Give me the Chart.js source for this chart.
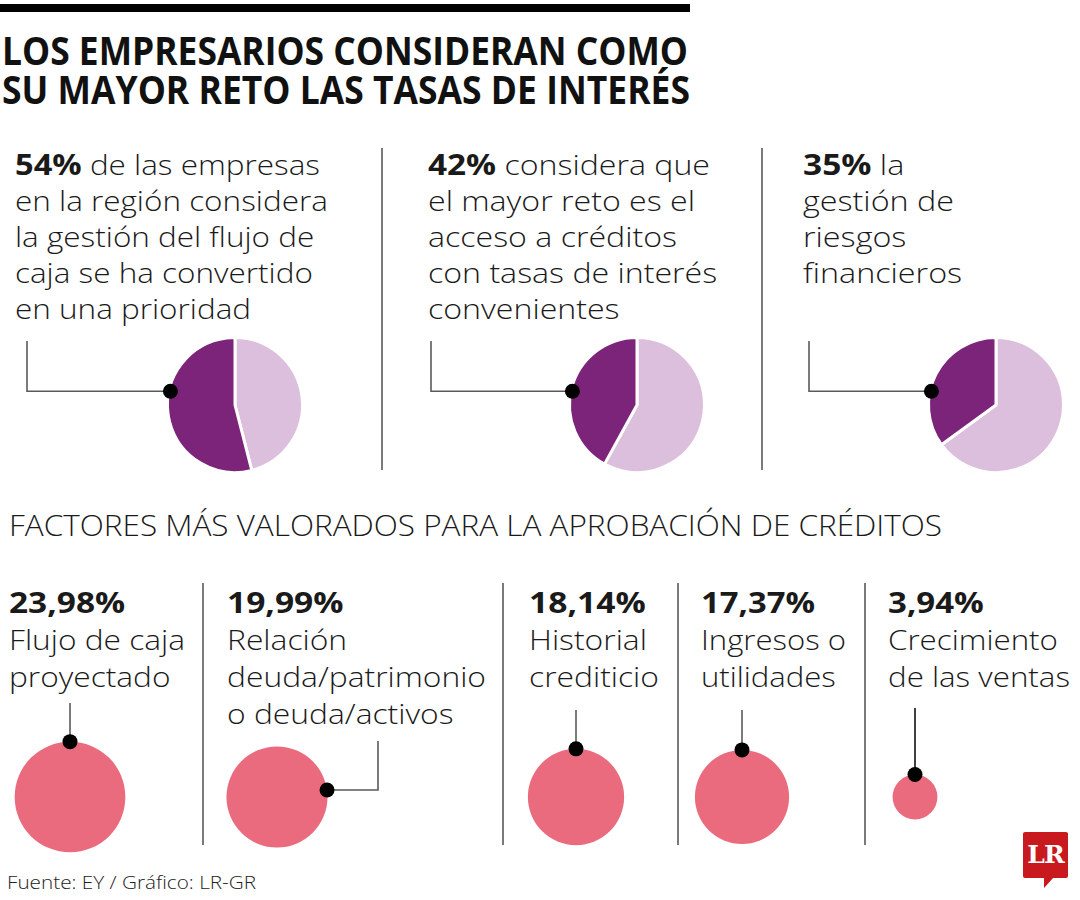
<!DOCTYPE html>
<html lang="es">
<head>
<meta charset="utf-8">
<title>Los empresarios consideran como su mayor reto las tasas de interés</title>
<script src="https://cdn.jsdelivr.net/npm/chart.js@4.4.1/dist/chart.umd.min.js"></script>
<style>
  html, body { margin: 0; padding: 0; background: #fff; }
  #page { position: relative; width: 1080px; height: 900px; overflow: hidden;
          font-family: "Open Sans", sans-serif; color: #1a1a1a; }
  .abs { position: absolute; white-space: nowrap; transform-origin: 0 0; }
  .vrule { position: absolute; width: 2px; background: #7a7a7a; }
  .title { font-weight: 700; font-size: 39px; line-height: 39px; color: #111; }
  .lead { font-weight: 300; font-size: 27px; line-height: 36px; }
  .lead b { font-weight: 700; font-size: 28px; }
  .heading { font-weight: 300; font-size: 30px; line-height: 30px; }
  .factor { font-weight: 300; font-size: 27px; line-height: 37px; }
  .factor b { font-weight: 700; font-size: 28.5px; }
  .source { font-weight: 300; font-size: 19px; line-height: 19px; color: #222; }
  canvas { position: absolute; }
  #logo { position: absolute; left: 1023px; top: 832px; width: 45px; height: 46px; background: #c8191e;
          border-radius: 2px; color: #fff; font-family: "DejaVu Serif", serif; font-weight: 700;
          font-size: 25px; line-height: 46px; text-align: center; letter-spacing: -1px; }
  #logo-tail { position: absolute; left: 1044px; top: 877px; width: 10px; height: 11px; background: #c8191e;
               clip-path: polygon(0 0, 100% 0, 0 100%); }
</style>
</head>
<body>
<div id="page"></div>
<script>
const TITLE = ['LOS EMPRESARIOS CONSIDERAN COMO', 'SU MAYOR RETO LAS TASAS DE INTERÉS'];

const PIE_VALUES = [54, 42, 35];
const PIE_TEXTS = [
    'de las empresas\nen la región considera\nla gestión del flujo de\ncaja se ha convertido\nen una prioridad',
    'considera que\nel mayor reto es el\nacceso a créditos\ncon tasas de interés\nconvenientes',
    'la\ngestión de\nriesgos\nfinancieros'
];

const FACTOR_HEADING = 'FACTORES MÁS VALORADOS PARA LA APROBACIÓN DE CRÉDITOS';
const FACTOR_VALUES = [23.98, 19.99, 18.14, 17.37, 3.94];
const FACTOR_LABELS = [
    'Flujo de caja\nproyectado',
    'Relación\ndeuda/patrimonio\no deuda/activos',
    'Historial\ncrediticio',
    'Ingresos o\nutilidades',
    'Crecimiento\nde las ventas'
];

const SOURCE = 'Fuente: EY / Gráfico: LR-GR';

// ---- colours ----
const DARK = '#7b2479';
const LIGHT = '#dcbedd';
const PINK = '#eb6b7e';

// ---- layout ----
// refLine / refW: which text line is matched to which width in the original
const PIE_COLS = [
    { left: 0,   width: 380, textX: 15,  cx: 235, elbowX: 27,  refLine: 0, refW: 305 },
    { left: 384, width: 376, textX: 428, cx: 637, elbowX: 431, refLine: 0, refW: 282 },
    { left: 764, width: 316, textX: 803, cx: 996, elbowX: 809, refLine: 1, refW: 151 }
];
const PIE_TOP = 330, PIE_H = 150, PIE_CY = 405, PIE_R = 67.5;

const FACTOR_COLS = [
    { left: 0,   width: 203, textX: 9,   cx: 70,  angle: -90, topY: 703, refLine: 1, refW: 176 },
    { left: 203, width: 300, textX: 227, cx: 277, angle: -8,  topY: 741, elbowX: 378, refLine: 2, refW: 259 },
    { left: 503, width: 175, textX: 529, cx: 576, angle: -90, topY: 710, refLine: 2, refW: 130 },
    { left: 678, width: 187, textX: 701, cx: 742, angle: -90, topY: 710, refLine: 1, refW: 145 },
    { left: 865, width: 215, textX: 888, cx: 915, angle: -90, topY: 708, refLine: 2, refW: 182, color: '#111' }
];
const BUBBLE_TOP = 690, BUBBLE_H = 170, BUBBLE_CY = 797;
const BUBBLE_SCALE = 11.3; // px of radius per sqrt(percent)

const page = document.getElementById('page');

function addDiv(cls, x, y, html) {
    const d = document.createElement('div');
    d.className = cls;
    d.style.left = x + 'px';
    d.style.top = y + 'px';
    d.innerHTML = html;
    page.appendChild(d);
    return d;
}

function fitWidth(el, target, measureEl) {
    const w = (measureEl || el).getBoundingClientRect().width;
    if (w > 0) el.style.transform = 'scaleX(' + (target / w) + ')';
}

// a block of lines, stretched so that one reference line has the original width
function addLines(cls, x, y, lines, refLine, refW) {
    const d = addDiv(cls, x, y, lines.map(l => '<span>' + l + '</span>').join('<br>'));
    fitWidth(d, refW, d.querySelectorAll('span')[refLine]);
    return d;
}

const pct = v => String(v).replace('.', ',') + '%';

// draws the black dot on the mark edge and the elbow line up to the text
const connectorPlugin = {
    id: 'connector',
    afterDatasetsDraw(chart, args, opts) {
        const el = chart.getDatasetMeta(0).data[opts.index || 0];
        const r = el.outerRadius !== undefined ? opts.edge : el.options.radius;
        const a = opts.angle * Math.PI / 180;
        const px = el.x + r * Math.cos(a);
        const py = el.y + r * Math.sin(a);
        const ctx = chart.ctx;
        ctx.save();
        ctx.strokeStyle = opts.color || '#5a5a5a';
        ctx.lineWidth = 1.6;
        ctx.beginPath();
        ctx.moveTo(px, py);
        if (opts.elbowX != null) {
            ctx.lineTo(opts.elbowX, py);
            ctx.lineTo(opts.elbowX, opts.topY);
        } else {
            ctx.lineTo(px, opts.topY);
        }
        ctx.stroke();
        ctx.fillStyle = '#000';
        ctx.beginPath();
        ctx.arc(px, py, 7.5, 0, Math.PI * 2);
        ctx.fill();
        ctx.restore();
    }
};

function makeCanvas(left, top, w, h) {
    const c = document.createElement('canvas');
    c.width = w;
    c.height = h;
    c.style.left = left + 'px';
    c.style.top = top + 'px';
    page.appendChild(c);
    return c;
}

// ---- header ----
const topBar = document.createElement('div');
topBar.style.cssText = 'position:absolute;left:0;top:4px;width:690px;height:8px;background:#000;';
page.appendChild(topBar);

TITLE.forEach((t, i) => {
    const d = addDiv('abs title', 2, 30 + i * 39, t);
    fitWidth(d, i === 0 ? 686 : 688);
});

// ---- pies ----
PIE_VALUES.forEach((v, i) => {
    const col = PIE_COLS[i];
    const lines = PIE_TEXTS[i].split('\n');
    lines[0] = '<b>' + v + '%</b> ' + lines[0];
    addLines('abs lead', col.textX, 146, lines, col.refLine, col.refW);

    const canvas = makeCanvas(col.left, PIE_TOP, col.width, PIE_H);
    const half = 67;
    const cxIn = col.cx - col.left;
    const cyIn = PIE_CY - PIE_TOP;
    new Chart(canvas, {
        type: 'pie',
        data: {
            labels: ['Resto', 'Respuesta'],
            datasets: [{
                data: [100 - v, v],
                backgroundColor: [LIGHT, DARK],
                borderColor: '#fff',
                borderWidth: 3,
                hoverOffset: 0
            }]
        },
        options: {
            responsive: false,
            animation: false,
            events: [],
            radius: PIE_R,
            layout: {
                padding: {
                    left: cxIn - half,
                    right: col.width - cxIn - half,
                    top: cyIn - half,
                    bottom: PIE_H - cyIn - half
                }
            },
            plugins: {
                legend: { display: false },
                tooltip: { enabled: false },
                connector: {
                    index: 1,
                    edge: 66,
                    angle: 192,
                    elbowX: col.elbowX - col.left,
                    topY: 341 - PIE_TOP
                }
            }
        },
        plugins: [connectorPlugin]
    });
});

// column dividers
[[382, 148, 322], [762, 148, 322], [203, 583, 262], [503, 583, 262], [678, 583, 262], [865, 583, 262]]
    .forEach(([x, y, h]) => {
        const d = document.createElement('div');
        d.className = 'vrule';
        d.style.left = (x - 1) + 'px';
        d.style.top = y + 'px';
        d.style.height = h + 'px';
        page.appendChild(d);
    });

// ---- factors ----
const heading = addDiv('abs heading', 9, 510, FACTOR_HEADING);
fitWidth(heading, 933);

FACTOR_VALUES.forEach((v, i) => {
    const col = FACTOR_COLS[i];
    const lines = ['<b>' + pct(v) + '</b>'].concat(FACTOR_LABELS[i].split('\n'));
    addLines('abs factor', col.textX, 584, lines, col.refLine, col.refW);

    const canvas = makeCanvas(col.left, BUBBLE_TOP, col.width, BUBBLE_H);
    const cxIn = col.cx - col.left;
    const cyIn = BUBBLE_CY - BUBBLE_TOP;
    const label = FACTOR_LABELS[i].replace(/\n/g, ' ');
    new Chart(canvas, {
        type: 'bubble',
        data: {
            labels: [label],
            datasets: [{
                data: [{ x: label, y: 0, r: BUBBLE_SCALE * Math.sqrt(v) }],
                backgroundColor: PINK,
                borderWidth: 0,
                hoverRadius: 0,
                clip: false
            }]
        },
        options: {
            responsive: false,
            animation: false,
            events: [],
            layout: {
                autoPadding: false,
                padding: {
                    left: cxIn - 10,
                    right: col.width - cxIn - 10,
                    top: cyIn - 10,
                    bottom: BUBBLE_H - cyIn - 10
                }
            },
            scales: {
                x: { type: 'category', display: false, offset: true },
                y: { min: -1, max: 1, display: false }
            },
            plugins: {
                legend: { display: false },
                tooltip: { enabled: false },
                connector: {
                    angle: col.angle,
                    elbowX: col.elbowX != null ? col.elbowX - col.left : null,
                    topY: col.topY - BUBBLE_TOP,
                    color: col.color
                }
            }
        },
        plugins: [connectorPlugin]
    });
});

// ---- footer ----
const src = addDiv('abs source', 7, 873, SOURCE);
fitWidth(src, 249);

const logo = document.createElement('div');
logo.id = 'logo';
logo.textContent = 'LR';
page.appendChild(logo);
const tail = document.createElement('div');
tail.id = 'logo-tail';
page.appendChild(tail);
</script>
</body>
</html>
